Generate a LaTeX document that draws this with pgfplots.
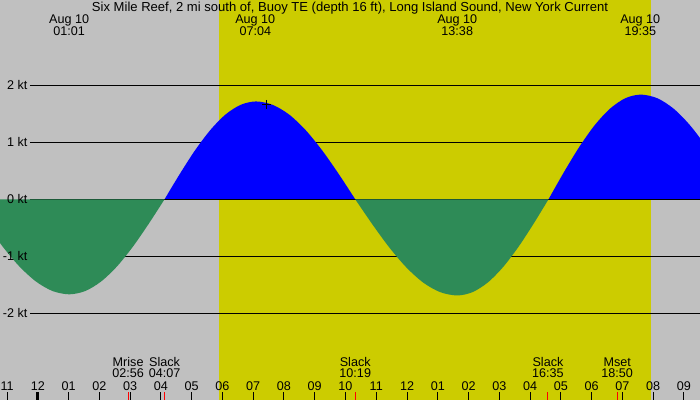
\documentclass[border=0pt]{standalone}
\usepackage{pgfplots}
\pgfplotsset{compat=1.18}
\usepackage{fontspec}
\setmainfont{Liberation Sans}

\definecolor{nightgray}{HTML}{C0C0C0}
\definecolor{dayyellow}{HTML}{CCCC00}
\definecolor{ebbgreen}{HTML}{2E8B57}
\definecolor{floodblue}{HTML}{0000FF}

\begin{document}
\begin{tikzpicture}[font=\fontsize{12.6bp}{15bp}\selectfont]
    \begin{axis}[
        width=700bp, height=400bp, scale only axis,
        xmin=-1.2321, xmax=21.525,
        ymin=-3.5272, ymax=3.5026,
        axis background/.style={fill=nightgray},
        axis line style={draw=none},
        ytick=\empty,
        xtick={-1,0,...,21},
        xticklabels={11,12,01,02,03,04,05,06,07,08,09,10,11,12,01,02,03,04,05,06,07,08,09},
        xtick pos=left,
        tick align=inside,
        major tick length=8bp,
        tick style={black, line width=1bp},
        xticklabel style={anchor=base, yshift=10bp, inner sep=0pt,
            font=\fontsize{12.6bp}{15bp}\selectfont},
        extra x ticks={0},
        extra x tick labels={},
        extra x tick style={tick style={black, line width=3bp}},
        axis on top,
    ]

    % daylight
    \fill[dayyellow] (axis cs:5.888,-4) rectangle (axis cs:19.932,4);

    % speed lines
    \draw[black, line width=1bp] (axis cs:-0.257,2) -- (axis cs:22,2);
    \draw[black, line width=1bp] (axis cs:-0.257,1) -- (axis cs:22,1);
    \draw[black, line width=1bp] (axis cs:-0.257,-1) -- (axis cs:22,-1);
    \draw[black, line width=1bp] (axis cs:-0.257,-2) -- (axis cs:22,-2);

    % flood
    \addplot[draw=none, fill=floodblue, smooth] coordinates {(4.117,0) (4.613,0.445) (5.108,0.86)
        (5.604,1.216) (6.099,1.49) (6.595,1.661) (7.09,1.72) (7.628,1.661) (8.166,1.49)
        (8.704,1.216) (9.241,0.86) (9.779,0.445) (10.317,0)} \closedcycle;
    \addplot[draw=none, fill=floodblue, smooth] coordinates {(16.6,0) (17.1,0.476) (17.6,0.92)
        (18.1,1.301) (18.6,1.593) (19.1,1.777) (19.6,1.84) (20.133,1.777) (20.667,1.593)
        (21.2,1.301) (21.733,0.92) (22.267,0.476) (22.8,0)} \closedcycle;

    \draw[black, line width=1bp] (axis cs:-0.257,0) -- (axis cs:22,0);

    % ebb
    \addplot[draw=none, fill=ebbgreen, smooth] coordinates {(-2.22,0) (-1.68,-0.432) (-1.14,-0.835)
        (-0.60,-1.181) (-0.06,-1.446) (0.48,-1.613) (1.02,-1.67) (1.536,-1.613) (2.052,-1.446)
        (2.569,-1.181) (3.085,-0.835) (3.601,-0.432) (4.117,0)} \closedcycle;
    \addplot[draw=none, fill=ebbgreen, smooth] coordinates {(10.317,0) (10.87,-0.437) (11.422,-0.845)
        (11.975,-1.195) (12.528,-1.464) (13.08,-1.632) (13.633,-1.69) (14.128,-1.632)
        (14.622,-1.464) (15.117,-1.195) (15.611,-0.845) (16.106,-0.437) (16.6,0)} \closedcycle;

    % now
    \addplot[only marks, mark=+, mark size=4.3bp, black, mark options={line width=1bp}]
        coordinates {(7.44,1.67)};

    % moon and slack events
    \addplot[only marks, mark=|, mark size=4bp, red, mark options={line width=1bp}]
        coordinates {(2.933,-3.457) (4.117,-3.457) (10.317,-3.457) (16.583,-3.457) (18.833,-3.457)};

    % labels
    \node[anchor=base, inner sep=0pt, font=\fontsize{13.05bp}{15bp}\selectfont] at (axis cs:10.146,3.297)
        {Six Mile Reef, 2 mi south of, Buoy TE (depth 16 ft), Long Island Sound, New York Current};

    \node[anchor=base, inner sep=0pt] at (axis cs:1.017,3.081) {Aug 10};
    \node[anchor=base, inner sep=0pt] at (axis cs:1.017,2.875) {01:01};
    \node[anchor=base, inner sep=0pt] at (axis cs:7.067,3.081) {Aug 10};
    \node[anchor=base, inner sep=0pt] at (axis cs:7.067,2.875) {07:04};
    \node[anchor=base, inner sep=0pt] at (axis cs:13.633,3.081) {Aug 10};
    \node[anchor=base, inner sep=0pt] at (axis cs:13.633,2.875) {13:38};
    \node[anchor=base, inner sep=0pt] at (axis cs:19.583,3.081) {Aug 10};
    \node[anchor=base, inner sep=0pt] at (axis cs:19.583,2.875) {19:35};

    \node[anchor=base east, inner sep=0pt] at (axis cs:-0.332,1.921) {2 kt};
    \node[anchor=base east, inner sep=0pt] at (axis cs:-0.332,0.921) {1 kt};
    \node[anchor=base east, inner sep=0pt] at (axis cs:-0.332,-0.079) {0 kt};
    \node[anchor=base east, inner sep=0pt] at (axis cs:-0.332,-1.079) {-1 kt};
    \node[anchor=base east, inner sep=0pt] at (axis cs:-0.332,-2.079) {-2 kt};

    \node[anchor=base, inner sep=0pt] at (axis cs:2.933,-2.93) {Mrise};
    \node[anchor=base, inner sep=0pt] at (axis cs:2.933,-3.135) {02:56};
    \node[anchor=base, inner sep=0pt] at (axis cs:4.117,-2.93) {Slack};
    \node[anchor=base, inner sep=0pt] at (axis cs:4.117,-3.135) {04:07};
    \node[anchor=base, inner sep=0pt] at (axis cs:10.317,-2.93) {Slack};
    \node[anchor=base, inner sep=0pt] at (axis cs:10.317,-3.135) {10:19};
    \node[anchor=base, inner sep=0pt] at (axis cs:16.583,-2.93) {Slack};
    \node[anchor=base, inner sep=0pt] at (axis cs:16.583,-3.135) {16:35};
    \node[anchor=base, inner sep=0pt] at (axis cs:18.833,-2.93) {Mset};
    \node[anchor=base, inner sep=0pt] at (axis cs:18.833,-3.135) {18:50};
    \end{axis}
    \pgfresetboundingbox
    \useasboundingbox (current axis.south west) rectangle (current axis.north east);
\end{tikzpicture}
\end{document}
